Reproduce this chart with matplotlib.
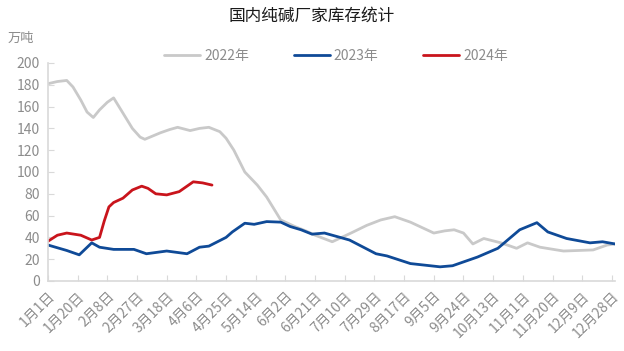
import numpy as np
import matplotlib.pyplot as plt
import pandas as pd

plt.rcParams["font.family"] = ["Noto Sans CJK SC", "DejaVu Sans"]

# day of year -> stock (10k tons)
days_2022 = [1, 7, 13, 17, 22, 26, 30, 34, 39, 43, 49, 55, 60, 63, 73, 79, 84,
             92, 98, 104, 111, 115, 120, 127, 135, 141, 150, 159, 166, 172,
             183, 189, 195, 205, 214, 223, 233, 248, 255, 261, 267, 273, 280,
             291, 301, 308, 316, 331, 350, 359, 364]
vals_2022 = [181, 183, 184, 178, 166, 155, 150, 157, 164, 168, 154, 140, 132,
             130, 136, 139, 141, 138, 140, 141, 137, 131, 120, 100, 88, 77, 56,
             50, 46, 42, 36, 40, 44, 51, 56, 59, 54, 44, 46, 47, 44, 34, 39,
             35, 30, 35, 31, 27.5, 28.5, 33, 34]

days_2023 = [1, 13, 21, 29, 34, 43, 56, 64, 77, 90, 98, 104, 115, 119, 127,
             133, 141, 150, 156, 163, 170, 178, 194, 211, 218, 233, 252, 260,
             276, 289, 303, 314, 321, 333, 348, 356, 364]
vals_2023 = [33, 28, 24, 35, 31, 29, 29, 25, 27.5, 25, 31, 32, 40, 45, 53, 52,
             54.5, 54, 50, 47, 43, 44, 37.6, 25, 23, 16, 13, 14, 22, 30, 47,
             53.5, 45, 39, 35, 36, 34]

days_2024 = [1, 7, 13, 22, 29, 34, 37, 40, 43, 49, 55, 61, 65, 70, 77, 85, 90,
             94, 100, 106]
vals_2024 = [36.5, 42, 44, 42, 37.6, 40, 55, 68, 72, 76, 83.5, 87, 85, 80, 79,
             82, 87, 91, 90, 88]

tick_days = list(range(1, 365, 19))
tick_labels = [f"{d.month}月{d.day}日" for d in
               pd.Timestamp("2023-01-01") + pd.to_timedelta(np.array(tick_days) - 1, unit="D")]

fig = plt.figure(figsize=(6.24, 3.51), dpi=100)
ax = fig.add_axes([48 / 624, 1 - 281 / 351, 567 / 624, 218 / 351])

style = dict(lw=2.0, solid_joinstyle="round", solid_capstyle="round")
ax.plot(days_2022, vals_2022, color="#c9c9c9", label="2022年", **style)
ax.plot(days_2023, vals_2023, color="#0f4a97", label="2023年", **style)
ax.plot(days_2024, vals_2024, color="#c9141c", label="2024年", **style)

ax.set_xlim(1, 364)
ax.set_ylim(0, 200)
ax.set_yticks(range(0, 201, 20))
ax.set_xticks(tick_days)
ax.set_xticklabels(tick_labels, rotation=45, ha="right", rotation_mode="anchor")

for side in ["top", "right"]:
    ax.spines[side].set_visible(False)
for side in ["left", "bottom"]:
    ax.spines[side].set_color("#d9d9d9")
    ax.spines[side].set_linewidth(1.2)
ax.tick_params(axis="both", direction="in", length=4, color="#d9d9d9",
               labelcolor="#8c8c8c", labelsize=10)
ax.tick_params(axis="y", pad=6)
ax.tick_params(axis="x", pad=6)

fig.text(0.5, 1 - 16 / 351, "国内纯碱厂家库存统计", ha="center", va="center",
         fontsize=12, color="#1a1a1a")
fig.text(8 / 624, 1 - 38 / 351, "万吨", ha="left", va="center",
         fontsize=9.5, color="#8c8c8c")

leg = fig.legend(loc="center", bbox_to_anchor=(336 / 624, 1 - 56 / 351), ncol=3,
                 frameon=False, fontsize=10, handlelength=2.6, columnspacing=3.2,
                 handletextpad=0.3)
for t in leg.get_texts():
    t.set_color("#8c8c8c")

fig.savefig("out.png", dpi=100)
